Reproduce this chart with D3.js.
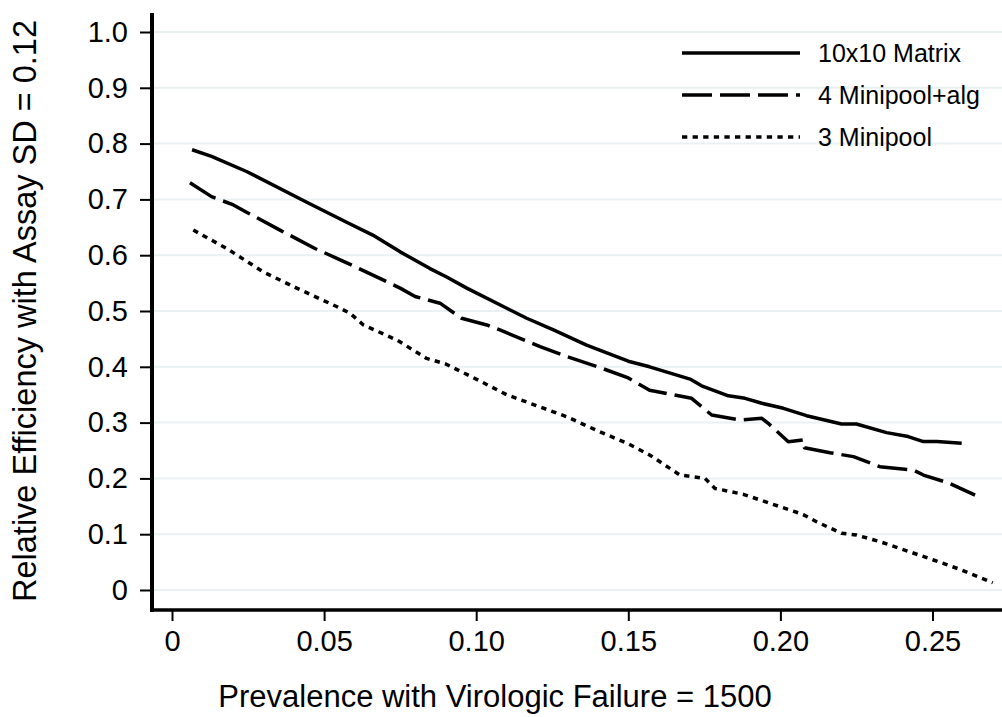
<!DOCTYPE html>
<html>
<head>
<meta charset="utf-8">
<script src="https://cdn.jsdelivr.net/npm/d3@7"></script>
<style>
  html, body { margin: 0; padding: 0; background: #fff; }
  text { font-family: "Liberation Sans", Arial, sans-serif; fill: #000; }
</style>
</head>
<body>
<svg id="chart" width="1002" height="717"></svg>
<script>
// series
const seriesNames = ["10x10 Matrix", "4 Minipool+alg", "3 Minipool"];

const matrixX = [0.0066, 0.013, 0.0245, 0.0443, 0.0574, 0.066, 0.075, 0.0848, 0.0903, 0.0969, 0.1166, 0.1254, 0.1363, 0.15, 0.157, 0.1703, 0.1741, 0.1829, 0.1884, 0.1939, 0.201, 0.2086, 0.2201, 0.225, 0.2349, 0.242, 0.247, 0.2514, 0.2596];
const matrixY = [0.789, 0.777, 0.750, 0.695, 0.659, 0.636, 0.606, 0.576, 0.561, 0.541, 0.487, 0.466, 0.439, 0.41, 0.400, 0.378, 0.366, 0.348, 0.3435, 0.3346, 0.3256, 0.3124, 0.2975, 0.2975, 0.282, 0.275, 0.266, 0.266, 0.263];

const mini4X = [0.0059, 0.013, 0.0202, 0.0245, 0.0355, 0.047, 0.056, 0.065, 0.075, 0.0799, 0.0881, 0.0952, 0.1035, 0.1078, 0.121, 0.125, 0.13, 0.14, 0.15, 0.157, 0.1708, 0.1774, 0.1867, 0.1939, 0.196, 0.2026, 0.2075, 0.2079, 0.2163, 0.224, 0.2327, 0.2437, 0.247, 0.2552, 0.264];
const mini4Y = [0.730, 0.705, 0.690, 0.677, 0.645, 0.612, 0.59, 0.567, 0.541, 0.526, 0.514, 0.487, 0.475, 0.466, 0.436, 0.428, 0.418, 0.40, 0.38, 0.358, 0.3435, 0.3136, 0.3047, 0.3077, 0.2987, 0.2658, 0.269, 0.255, 0.246, 0.239, 0.221, 0.215, 0.206, 0.192, 0.170];

const mini3X = [0.007, 0.018, 0.030, 0.041, 0.0541, 0.0585, 0.0629, 0.0739, 0.0793, 0.0837, 0.09, 0.10, 0.11, 0.12, 0.13, 0.14, 0.15, 0.157, 0.167, 0.1752, 0.1785, 0.1878, 0.2064, 0.2075, 0.212, 0.2201, 0.225, 0.2327, 0.2382, 0.2503, 0.259, 0.2698];
const mini3Y = [0.645, 0.612, 0.570, 0.541, 0.508, 0.496, 0.475, 0.448, 0.430, 0.415, 0.405, 0.378, 0.35, 0.33, 0.31, 0.285, 0.262, 0.242, 0.206, 0.200, 0.182, 0.1715, 0.1374, 0.135, 0.122, 0.1016, 0.0986, 0.0866, 0.0765, 0.0538, 0.037, 0.013];

const xTicks = [0, 0.05, 0.10, 0.15, 0.20, 0.25];
const xTickLabels = ["0", "0.05", "0.10", "0.15", "0.20", "0.25"];
const yTicks = [0, 0.1, 0.2, 0.3, 0.4, 0.5, 0.6, 0.7, 0.8, 0.9, 1.0];
const yTickLabels = ["0", "0.1", "0.2", "0.3", "0.4", "0.5", "0.6", "0.7", "0.8", "0.9", "1.0"];

const xTitle = "Prevalence with Virologic Failure = 1500";
const yTitle = "Relative Efficiency with Assay SD = 0.12";

const svg = d3.select("#chart"),
      width = +svg.attr("width"),
      height = +svg.attr("height");

const x = d3.scaleLinear().domain([0, 0.25]).range([172, 932.5]);
const y = d3.scaleLinear().domain([0, 1]).range([590, 32]);

const axisX = 152, axisY = 610;
const dashes = [null, "30,8", "5.3,5.3"];

// gridlines
svg.append("g")
    .selectAll("line")
    .data(yTicks)
    .enter().append("line")
    .attr("x1", axisX).attr("x2", width)
    .attr("y1", d => y(d)).attr("y2", d => y(d))
    .attr("stroke", "#e9f1f2")
    .attr("stroke-width", 2);

// y axis
const yAxis = svg.append("g")
    .attr("transform", `translate(${axisX},0)`)
    .call(d3.axisLeft(y).tickValues(yTicks).tickFormat((d, i) => yTickLabels[i]).tickSize(12).tickPadding(12));
yAxis.select(".domain").remove();
yAxis.selectAll(".tick line").attr("stroke", "#000").attr("stroke-width", 2);
yAxis.selectAll(".tick text").attr("font-size", 29).attr("font-family", null);
svg.append("line")
    .attr("x1", axisX).attr("x2", axisX)
    .attr("y1", 13).attr("y2", axisY + 2)
    .attr("stroke", "#000").attr("stroke-width", 4);

// x axis
const xAxis = svg.append("g")
    .attr("transform", `translate(0,${axisY})`)
    .call(d3.axisBottom(x).tickValues(xTicks).tickFormat((d, i) => xTickLabels[i]).tickSize(11).tickPadding(9));
xAxis.select(".domain").remove();
xAxis.selectAll(".tick line").attr("stroke", "#000").attr("stroke-width", 2);
xAxis.selectAll(".tick text").attr("font-size", 29).attr("font-family", null);
svg.append("line")
    .attr("x1", axisX - 2).attr("x2", width)
    .attr("y1", axisY).attr("y2", axisY)
    .attr("stroke", "#000").attr("stroke-width", 3.5);

// axis titles
svg.append("text")
    .attr("x", 495).attr("y", 707)
    .attr("text-anchor", "middle")
    .attr("font-size", 31)
    .text(xTitle);

svg.append("text")
    .attr("transform", "translate(36,311) rotate(-90)")
    .attr("text-anchor", "middle")
    .attr("font-size", 32.5)
    .text(yTitle);

// lines
const series = [
    d3.zip(matrixX, matrixY),
    d3.zip(mini4X, mini4Y),
    d3.zip(mini3X, mini3Y)
];

const line = d3.line()
    .x(d => x(d[0]))
    .y(d => y(d[1]));

svg.append("g")
    .selectAll("path")
    .data(series)
    .enter().append("path")
    .attr("d", line)
    .attr("fill", "none")
    .attr("stroke", "#000")
    .attr("stroke-width", 3.5)
    .attr("stroke-linejoin", "round")
    .attr("stroke-dasharray", (d, i) => dashes[i]);

// legend
const legend = svg.append("g")
    .selectAll("g")
    .data(seriesNames)
    .enter().append("g")
    .attr("transform", (d, i) => `translate(682,${53 + i * 42})`);

legend.append("line")
    .attr("x1", 0).attr("x2", 118)
    .attr("stroke", "#000")
    .attr("stroke-width", 3.5)
    .attr("stroke-dasharray", (d, i) => dashes[i]);

legend.append("text")
    .attr("x", 136)
    .attr("dy", "0.35em")
    .attr("font-size", 25)
    .text(d => d);
</script>
</body>
</html>
